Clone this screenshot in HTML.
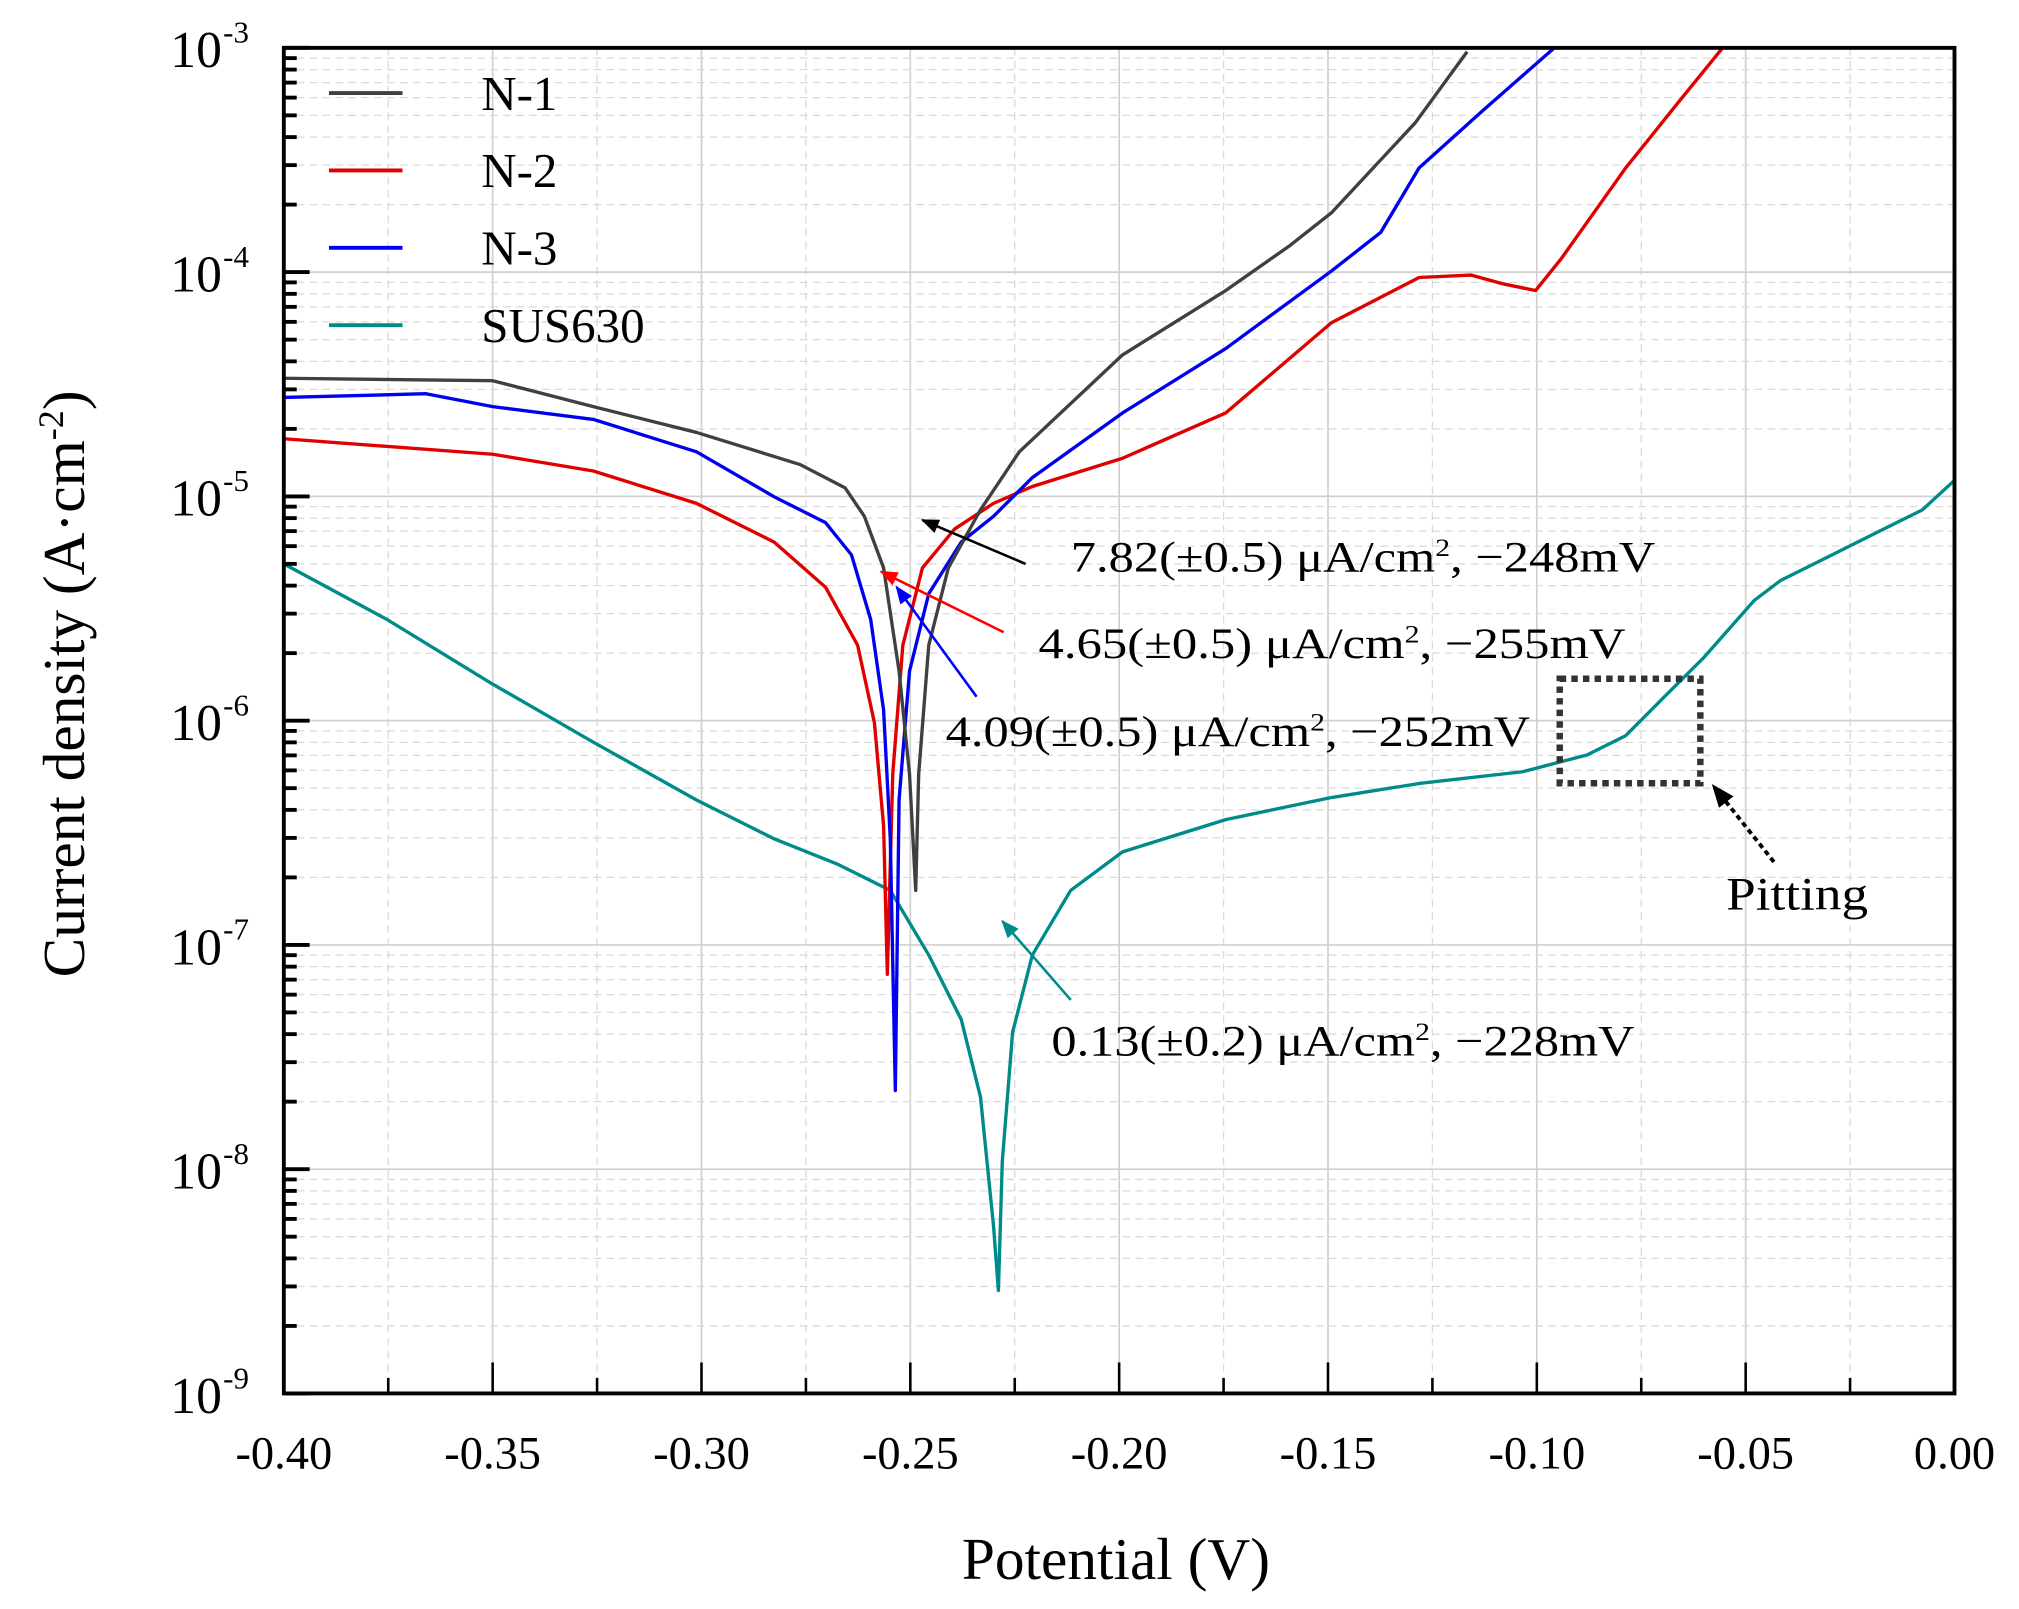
<!DOCTYPE html>
<html><head><meta charset="utf-8"><style>
html,body{margin:0;padding:0;background:#fff;}
svg{display:block;font-family:"Liberation Serif",serif;}
</style></head><body>
<svg id="chart" width="2019" height="1609" viewBox="0 0 1565 1247" xmlns="http://www.w3.org/2000/svg">
<defs>
<marker id="ab" viewBox="0 0 10 10" refX="9" refY="5" markerWidth="7" markerHeight="7" orient="auto"><path d="M0,1 L10,5 L0,9 z" fill="#000"/></marker>
<marker id="ar" viewBox="0 0 10 10" refX="9" refY="5" markerWidth="7" markerHeight="7" orient="auto"><path d="M0,1 L10,5 L0,9 z" fill="#f00"/></marker>
<marker id="abl" viewBox="0 0 10 10" refX="9" refY="5" markerWidth="7" markerHeight="7" orient="auto"><path d="M0,1 L10,5 L0,9 z" fill="#00f"/></marker>
<marker id="at" viewBox="0 0 10 10" refX="9" refY="5" markerWidth="7" markerHeight="7" orient="auto"><path d="M0,1 L10,5 L0,9 z" fill="#008b8b"/></marker>
<marker id="ap" viewBox="0 0 10 10" refX="9" refY="5" markerWidth="6" markerHeight="6" orient="auto"><path d="M0,1 L10,5 L0,9 z" fill="#000"/></marker>
</defs>
<g id="grid"></g>
<g id="series"></g>
<g id="axes"></g>
<g font-size="38">
 <line x1="255" y1="72" x2="312" y2="72" stroke="#404040" stroke-width="3"/>
 <text x="373" y="85">N-1</text>
 <line x1="255" y1="132" x2="312" y2="132" stroke="#e00000" stroke-width="3"/>
 <text x="373" y="145">N-2</text>
 <line x1="255" y1="192" x2="312" y2="192" stroke="#0000ee" stroke-width="3"/>
 <text x="373" y="205">N-3</text>
 <line x1="255" y1="252" x2="312" y2="252" stroke="#008b8b" stroke-width="3"/>
 <text x="373" y="265">SUS630</text>
</g>
<g font-size="34">
 <line x1="795" y1="437" x2="715" y2="403" stroke="#000" stroke-width="2" marker-end="url(#ab)"/>
 <text x="830" y="443" textLength="453" lengthAdjust="spacingAndGlyphs">7.82(±0.5) μA/cm<tspan dy="-12" font-size="20">2</tspan><tspan dy="12">, −248mV</tspan></text>
 <line x1="778" y1="490" x2="683" y2="443" stroke="#f00" stroke-width="2" marker-end="url(#ar)"/>
 <text x="805" y="510" textLength="455" lengthAdjust="spacingAndGlyphs">4.65(±0.5) μA/cm<tspan dy="-12" font-size="20">2</tspan><tspan dy="12">, −255mV</tspan></text>
 <line x1="757" y1="540" x2="695" y2="455" stroke="#00f" stroke-width="2" marker-end="url(#abl)"/>
 <text x="733" y="578" textLength="453" lengthAdjust="spacingAndGlyphs">4.09(±0.5) μA/cm<tspan dy="-12" font-size="20">2</tspan><tspan dy="12">, −252mV</tspan></text>
 <line x1="830" y1="775" x2="777" y2="714" stroke="#008b8b" stroke-width="2" marker-end="url(#at)"/>
 <text x="815" y="818" textLength="452" lengthAdjust="spacingAndGlyphs">0.13(±0.2) μA/cm<tspan dy="-12" font-size="20">2</tspan><tspan dy="12">, −228mV</tspan></text>
 <rect x="1209" y="526" width="109" height="81" fill="none" stroke="#333" stroke-width="5" stroke-dasharray="5,4"/>
 <line x1="1375" y1="668" x2="1328" y2="609" stroke="#000" stroke-width="3" stroke-dasharray="4,3" marker-end="url(#ap)"/>
 <text x="1338" y="705" font-size="36" textLength="110" lengthAdjust="spacingAndGlyphs">Pitting</text>
</g>
<text x="865" y="1224" font-size="46" text-anchor="middle">Potential (V)</text>
<text transform="translate(65,530) rotate(-90)" font-size="46" text-anchor="middle">Current density (A·cm<tspan dy="-16" font-size="28">-2</tspan><tspan dy="16">)</tspan></text>
</svg>
<script>
const xTicks=[-0.40,-0.35,-0.30,-0.25,-0.20,-0.15,-0.10,-0.05,0.00];
const xTickLabels=["-0.40","-0.35","-0.30","-0.25","-0.20","-0.15","-0.10","-0.05","0.00"];
const yDecades=[-9,-8,-7,-6,-5,-4,-3];
const n1V=[-0.400,-0.350,-0.3259,-0.3012,-0.2764,-0.2656,-0.2610,-0.2564,-0.2527,-0.2502,-0.2487,-0.2480,-0.2456,-0.2409,-0.2332,-0.2239,-0.1992,-0.1745,-0.1590,-0.1492,-0.1291,-0.1167];
const n1LogI=[-4.473,-4.484,-4.600,-4.715,-4.858,-4.962,-5.089,-5.319,-5.779,-6.239,-6.757,-6.239,-5.664,-5.319,-5.060,-4.801,-4.369,-4.082,-3.880,-3.736,-3.334,-3.017];
const n2V=[-0.400,-0.350,-0.3259,-0.3012,-0.2826,-0.2703,-0.2626,-0.2586,-0.2564,-0.2555,-0.2542,-0.2518,-0.2471,-0.2394,-0.2301,-0.2208,-0.1992,-0.1745,-0.1492,-0.1282,-0.1158,-0.1080,-0.1003,-0.0941,-0.0787,-0.0663,-0.0555];
const n2LogI=[-4.743,-4.812,-4.887,-5.031,-5.204,-5.405,-5.664,-6.009,-6.469,-7.131,-6.239,-5.664,-5.319,-5.146,-5.031,-4.956,-4.830,-4.628,-4.226,-4.024,-4.013,-4.053,-4.082,-3.938,-3.535,-3.247,-3.000];
const n3V=[-0.400,-0.366,-0.350,-0.3259,-0.3012,-0.2826,-0.2703,-0.2641,-0.2595,-0.2564,-0.2548,-0.2536,-0.2527,-0.2502,-0.2456,-0.2378,-0.2301,-0.2208,-0.1992,-0.1745,-0.1492,-0.1374,-0.1282,-0.1127,-0.0958];
const n3LogI=[-4.559,-4.542,-4.600,-4.657,-4.801,-5.002,-5.117,-5.261,-5.549,-5.952,-6.527,-7.649,-6.354,-5.779,-5.434,-5.204,-5.089,-4.916,-4.628,-4.341,-3.995,-3.823,-3.535,-3.276,-3.000];
const susV=[-0.400,-0.3753,-0.350,-0.3259,-0.3012,-0.2826,-0.2672,-0.2548,-0.2456,-0.2378,-0.2332,-0.2301,-0.2289,-0.2280,-0.2255,-0.2208,-0.2116,-0.1992,-0.1745,-0.1492,-0.1282,-0.1034,-0.0880,-0.0787,-0.0695,-0.0602,-0.0479,-0.0417,-0.0293,-0.0170,-0.0077,0.000];
const susLogI=[-5.301,-5.549,-5.837,-6.096,-6.354,-6.527,-6.642,-6.757,-7.045,-7.333,-7.678,-8.253,-8.541,-7.966,-7.390,-7.045,-6.757,-6.585,-6.441,-6.343,-6.280,-6.228,-6.153,-6.067,-5.894,-5.722,-5.463,-5.376,-5.261,-5.146,-5.060,-4.928];

var L=220,R=1515,T=37,B=1080;
function X(v){return L+(v+0.4)/0.4*(R-L);}
function Y(lg){return T+(-3-lg)/6*(B-T);}
var NS="http://www.w3.org/2000/svg";
function mk(tag,attrs,parent){var e=document.createElementNS(NS,tag);for(var k in attrs)e.setAttribute(k,attrs[k]);parent.appendChild(e);return e;}
var grid=document.getElementById('grid'),axes=document.getElementById('axes'),series=document.getElementById('series');
for(var i=0;i<xTicks.length;i++){
  var x=X(xTicks[i]);
  var g=mk('line',{x1:x,y1:T,x2:x,y2:B,stroke:'#d0d0d0','stroke-width':1.3},grid);
  
  
  if(i<xTicks.length-1){var xm=X(xTicks[i]+0.025);
    var m=mk('line',{x1:xm,y1:T,x2:xm,y2:B,stroke:'#dadada','stroke-width':1,'stroke-dasharray':'6,4'},grid);
    
    
    var mt=mk('line',{x1:xm,y1:B,x2:xm,y2:B-12,stroke:'#000','stroke-width':2},axes);
    
    }
  var t=mk('line',{x1:x,y1:B,x2:x,y2:B-24,stroke:'#000','stroke-width':2},axes);
  
  
  var lb=mk('text',{x:x,y:1138,'font-size':36,'text-anchor':'middle'},axes);
  lb.textContent=xTickLabels[i];
  
  
}
for(var i=0;i<yDecades.length;i++){
  var y=Y(yDecades[i]);
  var g=mk('line',{x1:L,y1:y,x2:R,y2:y,stroke:'#d0d0d0','stroke-width':1.3},grid);
  
  
  var t=mk('line',{x1:L,y1:y,x2:L+20,y2:y,stroke:'#000','stroke-width':3},axes);
  
  
  var lb=mk('text',{x:172,y:y+15,'font-size':40,'text-anchor':'end'},axes);
  lb.textContent='10';
  
  
  var sp=mk('text',{x:173,y:y-4,'font-size':24},axes);
  sp.textContent=String(yDecades[i]);
  
  
  if(i<yDecades.length-1){for(var k=2;k<=9;k++){var ym=Y(yDecades[i]+Math.log10(k));
    var m=mk('line',{x1:L,y1:ym,x2:R,y2:ym,stroke:'#dadada','stroke-width':1,'stroke-dasharray':'6,4'},grid);
    
    
    var mt=mk('line',{x1:L,y1:ym,x2:L+10,y2:ym,stroke:'#000','stroke-width':3},axes);
    
    }}
}
var fr=mk('rect',{x:L,y:T,width:R-L,height:B-T,fill:'none',stroke:'#000','stroke-width':3},axes);


function line(vs,ls,color,name){
  var d=vs.map(function(v,i){return (i?'L':'M')+X(v).toFixed(1)+','+Y(ls[i]).toFixed(1);}).join(' ');
  var p=mk('path',{d:d,fill:'none',stroke:color,'stroke-width':2.6,'stroke-linejoin':'round'},series);
  
  
}
line(susV,susLogI,'#008b8b','series-sus630');
line(n2V,n2LogI,'#e00000','series-n2');
line(n3V,n3LogI,'#0000ee','series-n3');
line(n1V,n1LogI,'#404040','series-n1');
</script>
</body></html>
